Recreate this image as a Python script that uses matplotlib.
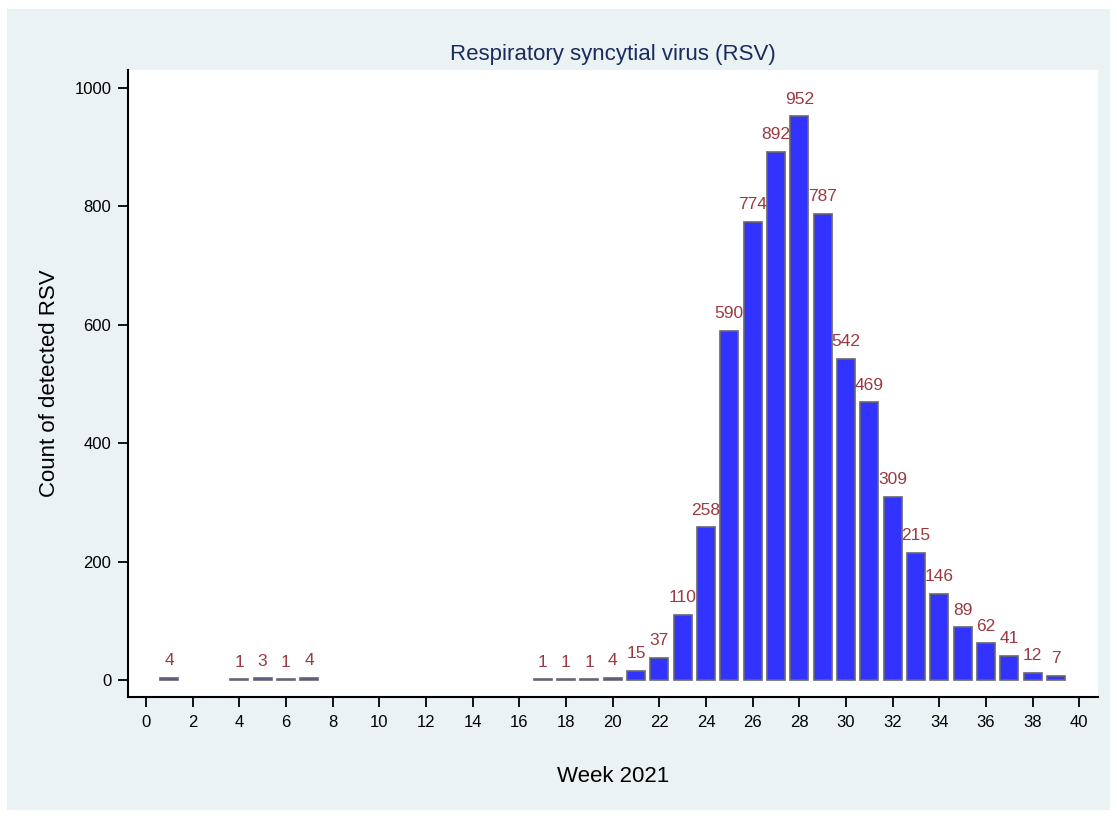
import matplotlib
matplotlib.use("Agg")
import matplotlib.pyplot as plt
from matplotlib.patches import Rectangle

weeks = [1, 4, 5, 6, 7, 17, 18, 19, 20, 21, 22, 23, 24, 25, 26, 27, 28, 29, 30,
         31, 32, 33, 34, 35, 36, 37, 38, 39]
counts = [4, 1, 3, 1, 4, 1, 1, 1, 4, 15, 37, 110, 258, 590, 774, 892, 952, 787, 542,
          469, 309, 215, 146, 89, 62, 41, 12, 7]
x_ticks = list(range(0, 41, 2))
y_ticks = [0, 200, 400, 600, 800, 1000]
title = "Respiratory syncytial virus (RSV)"
xlabel = "Week 2021"
ylabel = "Count of detected RSV"

plt.rcParams['font.family'] = ['Liberation Sans', 'DejaVu Sans']

W, H = 1117, 817
fig = plt.figure(figsize=(W / 100, H / 100), dpi=100, facecolor="white")
bg = Rectangle((7 / W, 1 - 810 / H), (1110 - 7) / W, (810 - 9) / H,
               transform=fig.transFigure, facecolor="#EAF2F3", edgecolor="none", zorder=-10)
fig.patches.append(bg)

left, right, top, bottom = 128, 1098, 70, 697
ax = fig.add_axes([left / W, 1 - bottom / H, (right - left) / W, (bottom - top) / H])
ax.set_facecolor("white")

ax.bar(weeks, counts, width=0.78, color="#3333FF", edgecolor="#666670", linewidth=1.2, zorder=2)
for w, c in zip(weeks, counts):
    ax.annotate(str(c), (w, c), xytext=(0, 7), textcoords="offset points",
                ha="center", va="bottom", color="#9B3A40", fontsize=12.5)

ax.set_xlim(-0.77, 40.8)
ax.set_ylim(-28.7, 1030.4)
ax.set_xticks(x_ticks)
ax.set_yticks(y_ticks)
ax.tick_params(axis="both", direction="out", length=7, width=1.3, labelsize=12, colors="black")
ax.tick_params(axis="x", pad=6)
ax.tick_params(axis="y", pad=5)
for s in ["top", "right"]:
    ax.spines[s].set_visible(False)
for s in ["left", "bottom"]:
    ax.spines[s].set_linewidth(1.5)

ax.set_title(title, fontsize=16, color="#1A2B5E", pad=7)
ax.set_xlabel(xlabel, fontsize=16, labelpad=26)
ax.set_ylabel(ylabel, fontsize=16)
ax.yaxis.set_label_coords(-68 / (right - left), 0.5)

fig.savefig("out.png", dpi=100, facecolor="white")
